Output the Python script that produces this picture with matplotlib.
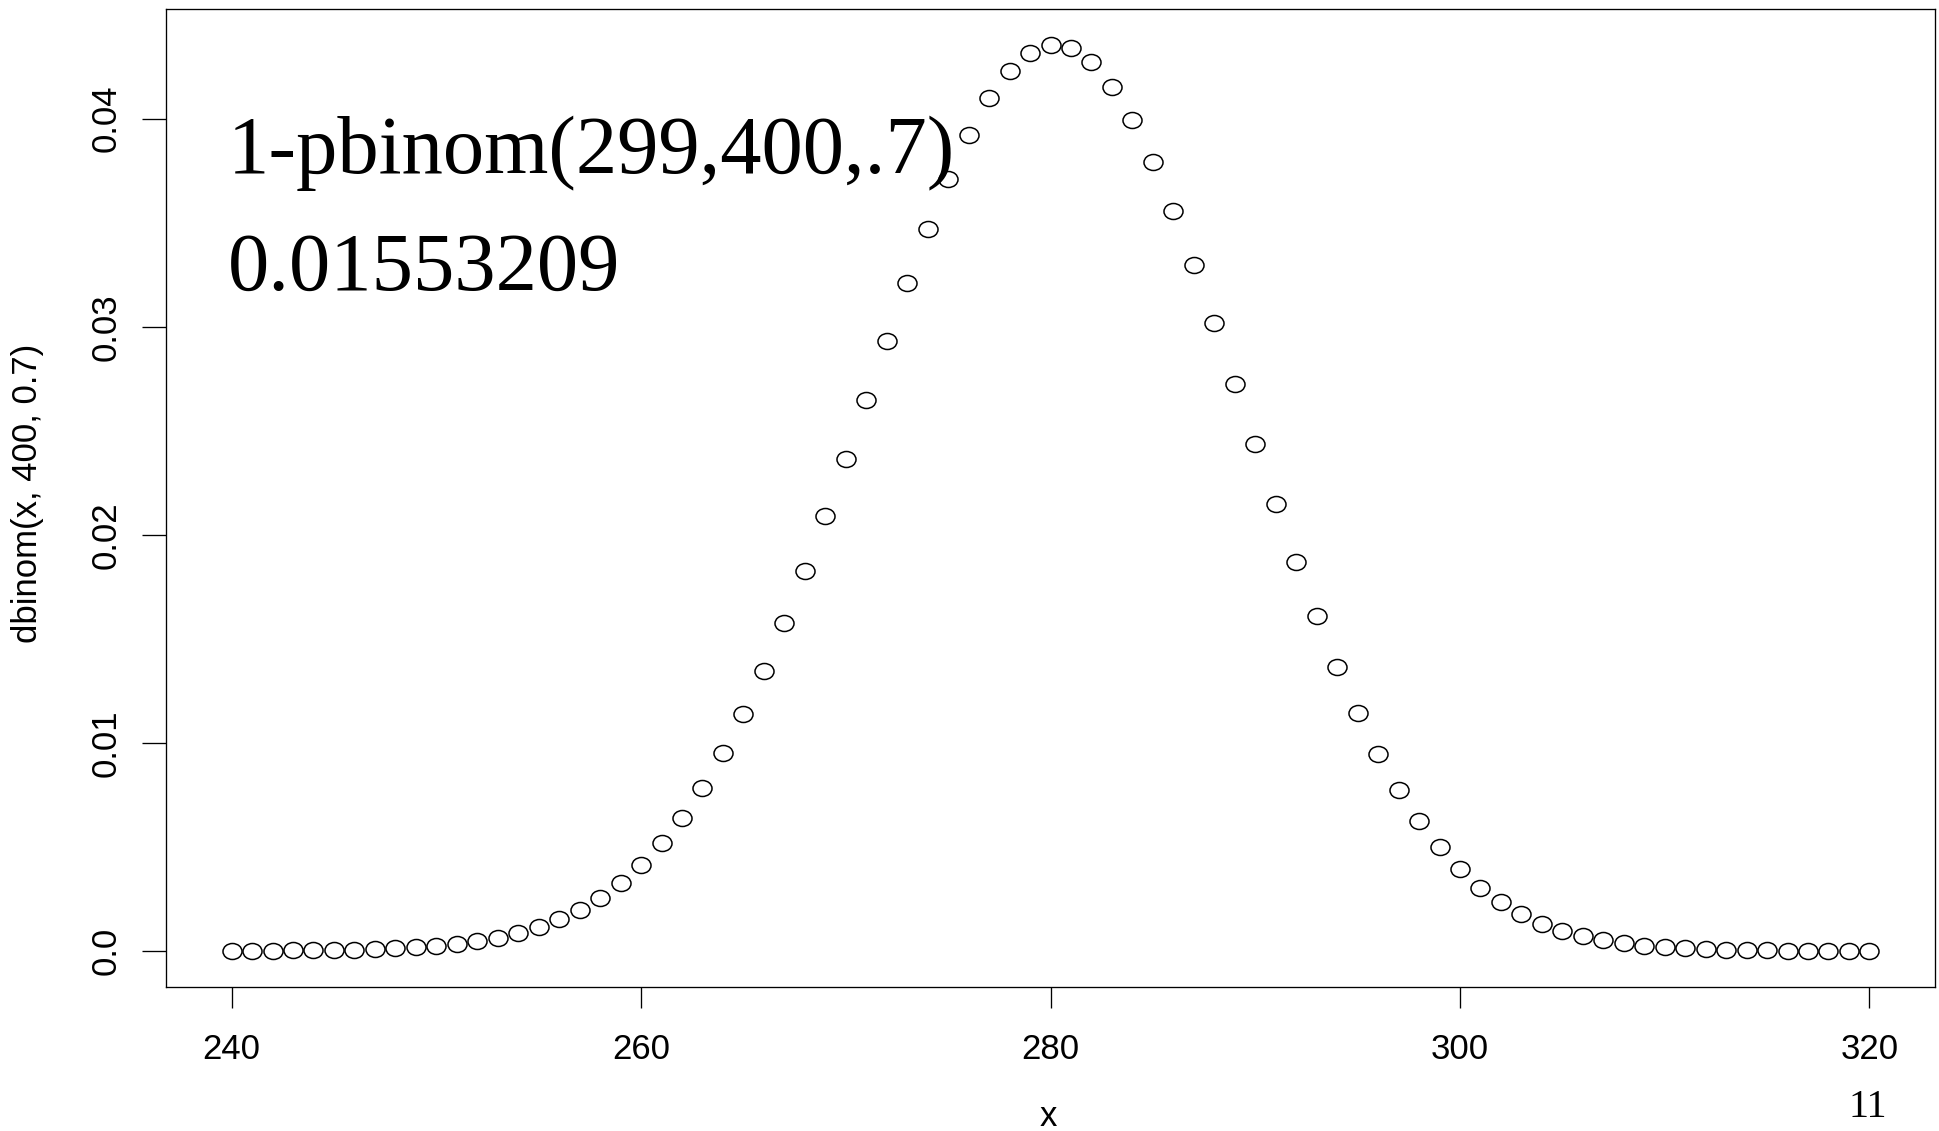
import matplotlib
matplotlib.use("Agg")
import matplotlib.pyplot as plt
from matplotlib.path import Path
from matplotlib.transforms import Affine2D

# x values and dbinom(x, 400, 0.7)
x_vals = list(range(240, 321))
dens = [
    0.0000048, 0.0000075, 0.0000116, 0.0000177, 0.0000266, 0.0000395, 0.0000580, 0.0000846,
    0.000122, 0.000173, 0.000243, 0.000339, 0.000467, 0.000637, 0.000860, 0.001148,
    0.001516, 0.001979, 0.002559, 0.003271, 0.004137, 0.005175, 0.006404, 0.007838,
    0.009490, 0.011363, 0.013455, 0.015757, 0.018247, 0.020895, 0.023660, 0.026487,
    0.029319, 0.032083, 0.034704, 0.037109, 0.039223, 0.040976, 0.042307, 0.043170,
    0.043530,
    0.043375, 0.042705, 0.041544, 0.039929, 0.037913, 0.035564, 0.032955, 0.030163,
    0.027269, 0.024348, 0.021471, 0.018699, 0.016081, 0.013655, 0.011451, 0.009478,
    0.007746, 0.006250, 0.004977, 0.003912, 0.003035, 0.002323, 0.001755, 0.001308,
    0.000962, 0.000698, 0.000499, 0.000352, 0.000245, 0.000168, 0.000113, 0.0000746,
    0.0000486, 0.0000312, 0.0000197, 0.0000122, 0.0000075, 0.0000045, 0.0000027, 0.0000016,
]
x_ticks = [240, 260, 280, 300, 320]
y_ticks = [0.0, 0.01, 0.02, 0.03, 0.04]
y_tick_labels = ["0.0", "0.01", "0.02", "0.03", "0.04"]
note_lines = ["1-pbinom(299,400,.7)", "0.01553209"]
page_no = "11"

sans = ["Liberation Sans", "DejaVu Sans"]
serif = ["Liberation Serif", "DejaVu Serif"]
plt.rcParams["font.family"] = sans

fig = plt.figure(figsize=(19.4, 11.31), dpi=100)
ax = fig.add_axes([0.0856, 0.1273, 0.9118, 0.8647])

# R-style open circles, a bit wider than tall
ellipse = Path.unit_circle().transformed(Affine2D().scale(1.19, 1.0))
ax.plot(x_vals, dens, linestyle="none", marker=ellipse, markersize=13.7,
        markerfacecolor="none", markeredgecolor="black", markeredgewidth=1.1)

lo, hi = min(x_vals), max(x_vals)
ax.set_xlim(lo - 0.04 * (hi - lo), hi + 0.04 * (hi - lo))
top = max(dens)
ax.set_ylim(-0.04 * top, top * 1.04)

ax.set_xticks(x_ticks)
ax.set_xticklabels([str(t) for t in x_ticks])
ax.set_yticks(y_ticks)
ax.set_yticklabels(y_tick_labels, rotation=90, va="center")
ax.tick_params(axis="x", length=15, width=0.95, pad=18, labelsize=25)
ax.tick_params(axis="y", length=17, width=0.95, pad=14, labelsize=25)
for s in ax.spines.values():
    s.set_linewidth(0.95)

ax.set_xlabel("x", fontsize=25)
ax.xaxis.label.set_va("center")
ax.xaxis.set_label_coords(0.4986, -0.1329)
ax.set_ylabel("dbinom(x, 400, 0.7)", fontsize=25)
ax.yaxis.label.set_va("center")
ax.yaxis.set_label_coords(-0.0786, 0.505)

ax.text(0.035, 0.8323, note_lines[0], transform=ax.transAxes, family=serif,
        fontsize=59.5, ha="left", va="baseline")
ax.text(0.035, 0.7127, note_lines[1], transform=ax.transAxes, family=serif,
        fontsize=59.5, ha="left", va="baseline")
fig.text(0.9629, 0.0125, page_no, family=serif, fontsize=29, ha="center", va="baseline")

fig.savefig("out.png", dpi=100)
plt.close(fig)
